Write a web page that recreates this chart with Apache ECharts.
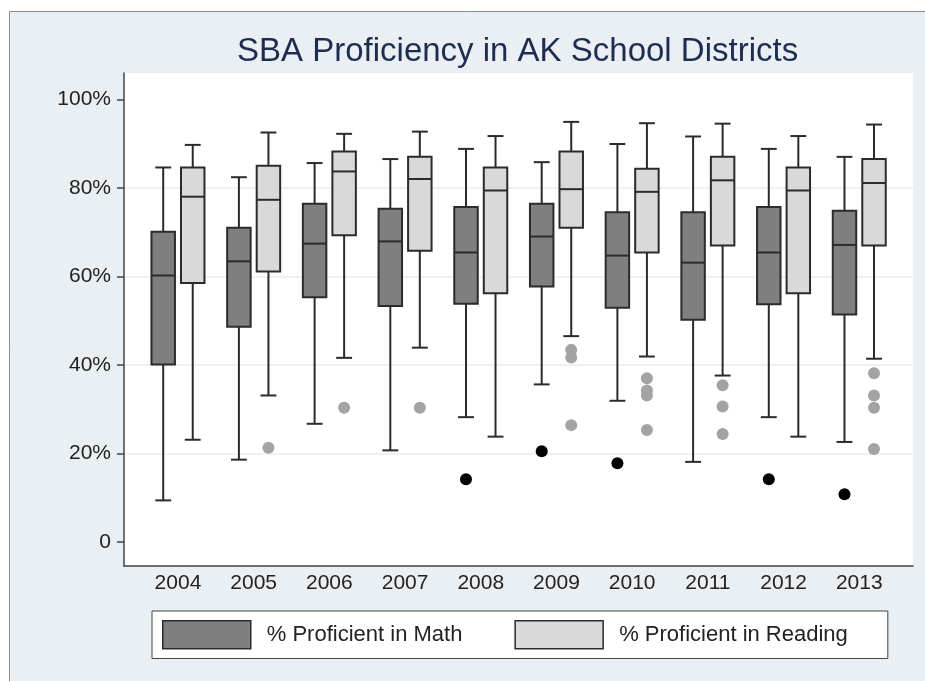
<!DOCTYPE html>
<html>
<head>
<meta charset="utf-8">
<script src="https://cdn.jsdelivr.net/npm/echarts@6/dist/echarts.min.js"></script>
<style>
html,body{margin:0;padding:0;background:#fff;}
#c{width:925px;height:681px;}
</style>
</head>
<body>
<div id="c"></div>
<script>
const years = ['2004','2005','2006','2007','2008','2009','2010','2011','2012','2013'];
const yTicks = [0, 20, 40, 60, 80, 100];
// [lower whisker, Q1, median, Q3, upper whisker]
const mathStats = [
  [9.4, 40.1, 60.2, 70.1, 84.6],
  [18.6, 48.6, 63.4, 71.0, 82.4],
  [26.7, 55.3, 67.4, 76.4, 85.6],
  [20.7, 53.3, 67.9, 75.3, 86.5],
  [28.2, 53.8, 65.4, 75.7, 88.8],
  [35.6, 57.7, 69.0, 76.4, 85.8],
  [31.9, 52.9, 64.7, 74.5, 89.9],
  [18.1, 50.2, 63.1, 74.5, 91.6],
  [28.2, 53.7, 65.4, 75.7, 88.8],
  [22.6, 51.4, 67.1, 74.8, 87.0]
];
const readStats = [
  [23.1, 58.5, 78.0, 84.6, 89.7],
  [33.1, 61.1, 77.3, 85.0, 92.5],
  [41.6, 69.3, 83.7, 88.2, 92.2],
  [43.9, 65.8, 82.0, 87.0, 92.7],
  [23.8, 56.2, 79.4, 84.6, 91.7],
  [46.5, 71.0, 79.7, 88.2, 94.9],
  [41.9, 65.4, 79.1, 84.3, 94.6],
  [37.6, 67.0, 81.7, 87.0, 94.5],
  [23.8, 56.2, 79.4, 84.6, 91.7],
  [41.4, 67.0, 81.1, 86.5, 94.3]
];
// [year index, value]
const mathOutliers = [[4, 14.2], [5, 20.5], [6, 17.8], [8, 14.2], [9, 10.8]];
const readOutliers = [
  [1, 21.3], [2, 30.3], [3, 30.3],
  [5, 43.4], [5, 41.7], [5, 26.4],
  [6, 37.0], [6, 34.2], [6, 33.1], [6, 25.3],
  [7, 35.4], [7, 30.6], [7, 24.4],
  [9, 38.1], [9, 33.1], [9, 30.3], [9, 21.0]
];

const OFFSET = 0.195, BOXW = 0.31, CAPW = 0.21;
const FONT = '"Liberation Sans", Arial, Helvetica, sans-serif';
const EDGE = '#2b2b2b';

function makeRender(offset, fill) {
  return function (params, api) {
    const x = api.value(0) + offset;
    const lo = api.coord([x, api.value(1)]);
    const q1 = api.coord([x, api.value(2)]);
    const md = api.coord([x, api.value(3)]);
    const q3 = api.coord([x, api.value(4)]);
    const hi = api.coord([x, api.value(5)]);
    const hw = api.size([BOXW, 0])[0] / 2;
    const hc = api.size([CAPW, 0])[0] / 2;
    const ls = {stroke: EDGE, lineWidth: 2};
    return {
      type: 'group',
      children: [
        {type: 'line', shape: {x1: lo[0], y1: lo[1], x2: q1[0], y2: q1[1]}, style: ls},
        {type: 'line', shape: {x1: q3[0], y1: q3[1], x2: hi[0], y2: hi[1]}, style: ls},
        {type: 'line', shape: {x1: lo[0] - hc, y1: lo[1], x2: lo[0] + hc, y2: lo[1]}, style: ls},
        {type: 'line', shape: {x1: hi[0] - hc, y1: hi[1], x2: hi[0] + hc, y2: hi[1]}, style: ls},
        {type: 'rect', shape: {x: q3[0] - hw, y: q3[1], width: hw * 2, height: q1[1] - q3[1]},
          style: {fill: fill, stroke: EDGE, lineWidth: 2}},
        {type: 'line', shape: {x1: md[0] - hw, y1: md[1], x2: md[0] + hw, y2: md[1]}, style: ls}
      ]
    };
  };
}

const chart = echarts.init(document.getElementById('c'), null, {renderer: 'canvas'});
chart.setOption({
  backgroundColor: '#ffffff',
  animation: false,
  graphic: [{
    type: 'rect', z: -10, silent: true,
    shape: {x: 9.5, y: 11.5, width: 940, height: 700},
    style: {fill: '#e9eff2', stroke: '#8a8a8a', lineWidth: 1}
  }],
  title: {
    text: 'SBA Proficiency in AK School Districts',
    left: 232, top: 30,
    textStyle: {fontFamily: FONT, fontSize: 33, fontWeight: 'normal', color: '#1e2c4f'}
  },
  grid: {
    left: 124, right: 12, top: 73, bottom: 115,
    show: true, backgroundColor: '#ffffff', borderWidth: 0
  },
  legend: {
    data: [
      {name: '% Proficient in Math', icon: 'rect', itemStyle: {color: '#7f7f7f', borderColor: EDGE, borderWidth: 1.5}},
      {name: '% Proficient in Reading', icon: 'rect', itemStyle: {color: '#d9d9d9', borderColor: EDGE, borderWidth: 1.5}}
    ],
    left: 152, top: 611,
    padding: [9, 40, 9, 10],
    itemWidth: 88, itemHeight: 28, itemGap: 52,
    backgroundColor: '#ffffff', borderColor: '#444', borderWidth: 1,
    selectedMode: false,
    textStyle: {fontFamily: FONT, fontSize: 22, color: '#222', padding: [0, 0, 0, 11]}
  },
  xAxis: {
    type: 'value', min: -0.713, max: 9.71,
    axisLine: {show: true, onZero: false, lineStyle: {color: '#444', width: 1.5}},
    axisTick: {show: false},
    splitLine: {show: false},
    axisLabel: {
      customValues: years.map((y, i) => i),
      formatter: v => years[Math.round(v)],
      fontFamily: FONT, fontSize: 21, color: '#222', margin: 7
    }
  },
  yAxis: {
    type: 'value', min: -5.42, max: 105.94,
    axisLine: {show: true, onZero: false, lineStyle: {color: '#444', width: 1.5}},
    axisTick: {show: true, length: 7, customValues: yTicks, lineStyle: {color: '#444', width: 1.5}},
    splitLine: {show: true, showMinLine: false, showMaxLine: false, lineStyle: {color: '#ebebeb', width: 1.5}},
    axisLabel: {
      customValues: yTicks,
      formatter: v => (v === 0 ? '0' : v + '%'),
      fontFamily: FONT, fontSize: 21, color: '#222', margin: 13
    }
  },
  series: [
    {
      name: '% Proficient in Math', type: 'custom',
      renderItem: makeRender(-OFFSET, '#7f7f7f'),
      itemStyle: {color: '#7f7f7f', borderColor: EDGE},
      encode: {x: 0, y: [1, 2, 3, 4, 5]},
      data: mathStats.map((s, i) => [i].concat(s))
    },
    {
      name: '% Proficient in Reading', type: 'custom',
      renderItem: makeRender(OFFSET, '#d9d9d9'),
      itemStyle: {color: '#d9d9d9', borderColor: EDGE},
      encode: {x: 0, y: [1, 2, 3, 4, 5]},
      data: readStats.map((s, i) => [i].concat(s))
    },
    {
      name: 'Math outliers', type: 'scatter', symbolSize: 12,
      itemStyle: {color: '#000000', opacity: 1},
      data: mathOutliers.map(o => [o[0] - OFFSET, o[1]])
    },
    {
      name: 'Reading outliers', type: 'scatter', symbolSize: 12,
      itemStyle: {color: '#a3a3a3', opacity: 1},
      data: readOutliers.map(o => [o[0] + OFFSET, o[1]])
    }
  ]
});
</script>
</body>
</html>
